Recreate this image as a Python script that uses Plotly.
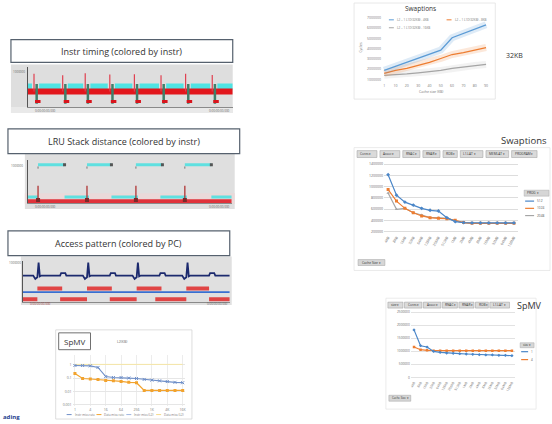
import plotly.graph_objects as go

W, H = 552, 424
def X(px): return px / W
def Y(py): return 1 - py / H

FONT = "Open Sans"
TXT = "#404040"

# ===================== DATA =====================
# Panel 1 : Instr timing (colored by instr)
timing_spike_x = [3, 17, 28, 40, 52, 65, 77, 90]
timing_spike_top = [84, 80, 85, 82, 83, 80, 84, 81]
timing_cyan_start = [0, 5.5, 19.5, 30.5, 42.5, 54.5, 67.5, 79.5, 92.5]
timing_cyan_end = [2, 16, 27, 39, 51, 64, 76, 89, 100]
timing_red_level = 39
timing_cyan_level = 52
timing_low_level = 8

# Panel 2 : LRU Stack distance (colored by instr)
lru_top_start = [5, 29, 53, 77]
lru_top_end = [18, 41, 66, 90]
lru_top_level = 88
lru_low_start = [0, 18, 41, 65, 90]
lru_low_end = [5, 30, 54, 78, 100]
lru_low_level = 14
lru_red_level = 4
lru_mark_x = [5, 29, 53, 77]
lru_mark_top = 40

# Panel 3 : Access pattern (colored by PC)
access_navy_x = [0, 5, 6, 7, 7.6, 8.2, 9, 18, 18.5, 20.5, 21, 29, 30, 31, 31.6, 32.2, 33, 42, 42.5, 44.5, 45,
                 53, 54, 55, 55.6, 56.2, 57, 66, 66.5, 68.5, 69, 77, 78, 79, 79.6, 80.2, 81, 90, 90.5, 92.5, 93, 100]
access_navy_y = [64, 64, 56, 60, 95, 62, 64, 64, 70, 70, 64, 64, 56, 60, 95, 62, 64, 64, 70, 70, 64,
                 64, 56, 60, 95, 62, 64, 64, 70, 70, 64, 64, 56, 60, 95, 62, 64, 64, 70, 70, 64, 64]
access_red_mid_start = [7, 31, 55, 79]
access_red_mid_end = [19, 43, 67, 90]
access_red_mid_level = 33
access_blue_level = 24
access_red_low_start = [0, 18, 42, 64, 90]
access_red_low_end = [7, 31, 55, 79, 100]
access_red_low_level = 7

# Panel 4 : SpMV (small line chart, log scale)
spmv_sizes = ["1", "2", "4", "8", "16", "32", "64", "128", "256", "512", "1K", "2K", "4K", "8K", "16K"]
spmv_blue = [0.87, 0.87, 0.82, 0.62, 0.13, 0.11, 0.11, 0.1, 0.093, 0.079, 0.07, 0.062, 0.055, 0.048, 0.045]
spmv_orange = [0.22, 0.093, 0.085, 0.079, 0.066, 0.062, 0.056, 0.048, 0.045, 0.012, 0.012, 0.012, 0.012, 0.012, 0.012]
spmv_yellow = [1.05, 1.05, 1.05, 1.05, 1.05, 1.05, 1.05, 1.05, 1.05, 1.05, 1.05, 1.05, 1.05, 1.05, 1.05]
spmv_legend = ["Instr miss rate", "Data miss rate", "Instr miss (L2)", "Data miss (L2)"]
spmv_ticks = [1, 0.1, 0.01, 0.001]

# Panel 5 : Swaptions (top right)
swap_x = ["1", "10", "20", "30", "40", "50", "60", "70", "80", "90"]
swap_blue = [1.87e6, 2.26e6, 2.65e6, 3.03e6, 3.42e6, 3.85e6, 5.06e6, 5.5e6, 5.94e6, 6.32e6]
swap_orange = [1.58e6, 1.87e6, 2.06e6, 2.35e6, 2.65e6, 3.03e6, 3.42e6, 3.61e6, 3.85e6, 4.1e6]
swap_gray = [1.39e6, 1.44e6, 1.53e6, 1.63e6, 1.73e6, 1.87e6, 2.06e6, 2.21e6, 2.35e6, 2.45e6]
swap_names = ["L2 = 1 L1D(32KB) - 4KB", "L2 = 1 L1D(32KB) - 8KB", "L2 = 1 L1D(32KB) - 16KB"]

# Panel 6 : Swaptions pivot chart
cache_labels = ["4KB", "8KB", "16KB", "32KB", "64KB", "128KB", "256KB", "512KB", "1MB", "2MB",
                "4MB", "8MB", "16MB", "32MB", "64MB", "128MB"]
pivot_blue = [1.213e6, 0.848e6, 0.724e6, 0.671e6, 0.613e6, 0.578e6, 0.565e6, 0.447e6, 0.376e6, 0.359e6,
              0.353e6, 0.353e6, 0.353e6, 0.353e6, 0.353e6, 0.353e6]
pivot_orange = [0.948e6, 0.742e6, 0.613e6, 0.535e6, 0.477e6, 0.447e6, 0.435e6, 0.429e6, 0.401e6, 0.359e6,
                0.345e6, 0.345e6, 0.345e6, 0.345e6, 0.345e6, 0.345e6]
pivot_gray = [0.888e6, 0.595e6, 0.613e6, 0.535e6, 0.494e6, 0.447e6, 0.447e6, 0.436e6, 0.389e6, 0.359e6,
              0.345e6, 0.345e6, 0.345e6, 0.345e6, 0.345e6, 0.345e6]
pivot_names = ["512", "1024", "2048"]
pivot_filters = ["Cores", "Assoc", "RNAC", "RNAR", "ROB", "L1.LAT", "MEMLAT", "PROGRAM"]

# Panel 7 : SpMV pivot chart
spmv_pivot_blue = [1.818e6, 1.212e6, 1.163e6, 0.996e6, 0.958e6, 0.934e6, 0.92e6, 0.909e6, 0.896e6, 0.883e6,
                   0.871e6, 0.858e6, 0.858e6, 0.845e6, 0.845e6, 0.833e6]
spmv_pivot_orange = [1.163e6, 1.06e6, 1.035e6, 1.023e6, 1.023e6, 1.023e6, 1.023e6, 1.023e6, 1.023e6, 1.023e6,
                     1.023e6, 1.023e6, 1.023e6, 1.023e6, 1.023e6, 1.023e6]
spmv_pivot_names = ["1", "4"]
spmv_filters = ["size", "Cores", "Assoc", "RNAC", "RNAR", "ROB", "L1.LAT"]

# ===================== FIGURE =====================
fig = go.Figure()
shapes, annos = [], []

def segs(starts, ends, level):
    xs, ys = [], []
    for s, e in zip(starts, ends):
        xs += [s, e, None]
        ys += [level, level, None]
    return xs, ys

def line(x, y, color, width, ax, mode="lines", **kw):
    fig.add_trace(go.Scatter(x=x, y=y, mode=mode, line=dict(color=color, width=width),
                             xaxis="x" + ax, yaxis="y" + ax, showlegend=False,
                             hoverinfo="skip", **kw))

def rect(x0, y0, x1, y1, fill=None, border=None, bw=1, layer="below"):
    shapes.append(dict(type="rect", xref="paper", yref="paper", x0=X(x0), x1=X(x1),
                       y0=Y(y1), y1=Y(y0), fillcolor=fill or "rgba(0,0,0,0)",
                       line=dict(color=border or "rgba(0,0,0,0)", width=bw if border else 0),
                       layer=layer))

def hline(x0, x1, y, color, width=1):
    shapes.append(dict(type="line", xref="paper", yref="paper", x0=X(x0), x1=X(x1),
                       y0=Y(y), y1=Y(y), line=dict(color=color, width=width), layer="above"))

def text(x, y, s, size=4, color=TXT, xa="center", ya="middle", angle=0, bold=False):
    if bold:
        s = "<b>" + s + "</b>"
    annos.append(dict(x=X(x), y=Y(y), xref="paper", yref="paper", text=s, showarrow=False,
                      font=dict(size=size, color=color, family=FONT), xanchor=xa, yanchor=ya,
                      textangle=angle))

def title_box(x0, y0, x1, y1, s):
    rect(x0, y0, x1, y1, fill="white", border="#56616e", bw=1.2, layer="above")
    text((x0 + x1) / 2, (y0 + y1) / 2 + 0.5, s, size=9, color="#333333")

layout_axes = {}
def axes(n, xd, yd, xkw=None, ykw=None):
    base = dict(showgrid=False, zeroline=False, showticklabels=False, ticks="", showline=False)
    xa = dict(base, domain=[X(xd[0]), X(xd[1])], anchor="y" + n)
    ya = dict(base, domain=[Y(yd[1]), Y(yd[0])], anchor="x" + n)
    xa.update(xkw or {})
    ya.update(ykw or {})
    layout_axes["xaxis" + n] = xa
    layout_axes["yaxis" + n] = ya

# ---------- Panel 1 ----------
rect(10, 62, 233, 111, fill="#dedede")
rect(10, 105, 233, 111, fill="#e9e9e9")
title_box(10, 37, 233, 60, "Instr timing (colored by instr)")
axes("", (27, 233), (65, 105),
     dict(range=[0, 100], showline=True, linecolor="#8a8a8a"),
     dict(range=[0, 100], showline=True, linecolor="#555555"))
cx, cy = segs(timing_cyan_start, timing_cyan_end, timing_cyan_level)
line(cx, cy, "#4fe3e3", 6, "")
line([0, 100], [timing_red_level, timing_red_level], "#e2161c", 6, "")
sx, sy = [], []
for xv, top in zip(timing_spike_x, timing_spike_top):
    sx += [xv, xv, None]
    sy += [timing_red_level, top, None]
line(sx, sy, "#e04050", 1.2, "")
gx, gy = [], []
for xv in timing_spike_x:
    gx += [xv + 1.3, xv + 1.3, None]
    gy += [timing_low_level, timing_cyan_level + 6, None]
line(gx, gy, "#3f7f6a", 2.5, "")
rx, ry = [], []
for xv in timing_spike_x:
    rx += [xv + 0.5, xv + 3.2, None]
    ry += [timing_low_level + 6, timing_low_level + 6, None]
line(rx, ry, "#d8141c", 3, "")
text(18, 70, "1000000", size=3, color="#666")
text(45, 109, "0:00:00:00.000", size=3, color="#666")
text(220, 109, "0:00:00:00.000", size=3, color="#666")

# ---------- Panel 2 ----------
rect(24, 152, 235, 208, fill="#dfdfdf")
rect(24, 192, 235, 203, fill="#ead9d9")
title_box(7, 127, 240, 152, "LRU Stack distance (colored by instr)")
axes("2", (27, 232), (158, 202),
     dict(range=[0, 100], showline=True, linecolor="#8a8a8a"),
     dict(range=[0, 100], showline=True, linecolor="#555555"))
tx, ty = segs(lru_top_start, lru_top_end, lru_top_level)
line(tx, ty, "#5fe0e0", 3, "2")
line(lru_top_end, [lru_top_level] * len(lru_top_end), "#555", 0, "2", mode="markers",
     marker=dict(size=3, color="#555555", symbol="square"))
mx, my = [], []
for xv in lru_top_start:
    mx += [xv, xv, None]
    my += [lru_top_level - 4, lru_top_level - 9, None]
line(mx, my, "#777777", 1, "2")
lx, ly = segs(lru_low_start, lru_low_end, lru_low_level)
line(lx, ly, "#5fe0e0", 3, "2")
line([0, 100], [lru_red_level, lru_red_level], "#e0323a", 4, "2")
vx, vy = [], []
for xv in lru_mark_x:
    vx += [xv, xv, None]
    vy += [lru_red_level, lru_mark_top, None]
line(vx, vy, "#b03535", 1.3, "2")
line(lru_mark_x, [lru_red_level + 3] * len(lru_mark_x), "#7a2a2a", 0, "2", mode="markers",
     marker=dict(size=4, color="#7a2a2a", symbol="square"))
text(16, 165, "1000000", size=3, color="#666")
text(45, 206, "0:00:00:00.000", size=3, color="#666")
text(220, 206, "0:00:00:00.000", size=3, color="#666")

# ---------- Panel 3 ----------
rect(20, 256, 232, 305, fill="#e0e0e0")
title_box(7, 230, 230, 255, "Access pattern (colored by PC)")
axes("3", (22, 230), (260, 302),
     dict(range=[0, 100], showline=True, linecolor="#8a8a8a"),
     dict(range=[0, 100], showline=True, linecolor="#555555"))
line(access_navy_x, access_navy_y, "#1c2a6e", 1.8, "3")
line([0, 100], [access_blue_level, access_blue_level], "#3a6fd0", 1.8, "3")
mx, my = segs(access_red_mid_start, access_red_mid_end, access_red_mid_level)
line(mx, my, "#e04545", 4, "3")
lx, ly = segs(access_red_low_start, access_red_low_end, access_red_low_level)
line(lx, ly, "#e04545", 4, "3")
text(14, 262, "1000000", size=3, color="#666")
text(40, 304, "0:00:00:00.000", size=3, color="#a04040")
text(218, 304, "0:00:00:00.000", size=3, color="#666")

# ---------- Panel 4 : SpMV small ----------
rect(55, 330, 192, 420, fill="white", border="#d4d4d4", bw=0.8)
axes("4", (72, 185), (355, 407),
     dict(type="category", showgrid=True, gridcolor="#ececec", showticklabels=True,
          tickfont=dict(size=3.5, color="#777"), tickvals=spmv_sizes[::2], range=[-0.3, 14.3]),
     dict(type="log", range=[-3.1, 0.75], showgrid=True, gridcolor="#e6e6e6", showticklabels=True,
          tickvals=spmv_ticks, ticktext=[str(t) for t in spmv_ticks],
          tickfont=dict(size=3.5, color="#777")))
line(spmv_sizes, spmv_yellow, "#f5e6a6", 1, "4", mode="lines")
line(spmv_sizes, spmv_blue, "#6f8fc8", 1.2, "4", mode="lines+markers",
     marker=dict(size=3, color="#6f8fc8", symbol="x-thin", line=dict(width=1, color="#6f8fc8")))
line(spmv_sizes, spmv_orange, "#f2a32e", 1.2, "4", mode="lines+markers",
     marker=dict(size=3, color="#f2a32e", symbol="square"))
rect(58, 333, 90, 350, fill="white", border="#707070", bw=1, layer="above")
text(74, 341.5, "SpMV", size=8, color="#333")
text(122, 342, "L2(KB)", size=3.5, color="#666")
leg_cols = ["#6f8fc8", "#f2a32e", "#9fb6e0", "#f5d98a"]
for i, (nm, c) in enumerate(zip(spmv_legend, leg_cols)):
    x0 = 66 + i * 30
    hline(x0, x0 + 5, 415.5, c, 1)
    text(x0 + 6, 415.5, nm, size=3, color="#777", xa="left")

# ---------- Panel 5 : Swaptions top ----------
rect(355, 0, 497, 97, fill="white", border="#e2e2e2", bw=0.8)
axes("5", (383, 490), (15, 80),
     dict(type="category", range=[-0.2, 9.2], showticklabels=True,
          tickfont=dict(size=3.5, color="#777")),
     dict(range=[0.71e6, 7e6], showticklabels=True, tickvals=[1e6, 2e6, 3e6, 4e6, 5e6, 6e6, 7e6],
          tickformat="d", tickfont=dict(size=3.5, color="#777")))
for ys, c, cl in [(swap_gray, "#a5a5a5", "rgba(165,165,165,0.15)"),
                  (swap_orange, "#ed7d31", "rgba(237,125,49,0.18)"),
                  (swap_blue, "#5b9bd5", "rgba(91,155,213,0.2)")]:
    line(swap_x, ys, cl, 7, "5")
    line(swap_x, ys, c, 1.3, "5")
text(422, 6, "Swaptions", size=6.5, color="#333")
text(362, 45, "Cycles", size=3.5, color="#777", angle=-90)
text(432, 89, "Cache size (KB)", size=3.5, color="#777")
for (nm, c), (lx0, ly0) in zip(zip(swap_names, ["#5b9bd5", "#ed7d31", "#a5a5a5"]),
                              [(390, 17), (448, 17), (390, 25)]):
    hline(lx0, lx0 + 5, ly0, c, 1)
    text(lx0 + 6, ly0, nm, size=3, color="#777", xa="left")
text(516, 53, "32KB", size=7, color="#333")

# ---------- Panel 6 : Swaptions pivot ----------
rect(355, 146, 552, 270, fill="white", border="#e4e4e4", bw=0.8)
axes("6", (385, 520), (160, 233),
     dict(type="category", range=[-0.5, 15.5], showticklabels=True, tickangle=-60,
          tickfont=dict(size=3.5, color="#666")),
     dict(range=[1.59e5, 1.448e6], showticklabels=True, showgrid=True, gridcolor="#dddddd",
          tickvals=[2e5, 4e5, 6e5, 8e5, 1e6, 1.2e6, 1.4e6], tickformat="d",
          tickfont=dict(size=3.5, color="#666")))
line(cache_labels, pivot_gray, "#a5a5a5", 1.2, "6", mode="lines+markers",
     marker=dict(size=3, color="#a5a5a5", symbol="triangle-up"))
line(cache_labels, pivot_orange, "#ed7d31", 1.2, "6", mode="lines+markers",
     marker=dict(size=3, color="#ed7d31", symbol="square"))
line(cache_labels, pivot_blue, "#4a86c8", 1.2, "6", mode="lines+markers",
     marker=dict(size=3, color="#4a86c8", symbol="diamond"))
text(551, 139, "Swaptions", size=9.5, color="#333", xa="right")
bx = 358
for lab in pivot_filters:
    w = 6 + 2.8 * len(lab)
    rect(bx, 149, bx + w, 156, fill="#dadada", border="#9a9a9a", bw=0.5, layer="above")
    text(bx + 1.2, 152.5, lab + " ▾", size=3.2, color="#333", xa="left")
    bx += w + 3
rect(526, 189, 551, 195, fill="#d6d6d6", border="#a8a8a8", bw=0.5, layer="above")
text(527, 192, "PROG ▾", size=3.2, color="#333", xa="left")
for i, (nm, c) in enumerate(zip(pivot_names, ["#4a86c8", "#ed7d31", "#a5a5a5"])):
    yy = 200 + i * 7.3
    hline(527, 536, yy, c, 1.2)
    text(537, yy, nm, size=3.2, color="#555", xa="left")
rect(359, 259, 386, 265, fill="#d6d6d6", border="#a0a0a0", bw=0.5, layer="above")
text(360.5, 262, "Cache Size ▾", size=3.2, color="#333", xa="left")

# ---------- Panel 7 : SpMV pivot ----------
rect(387, 298, 538, 410, fill="white", border="#e6e6e6", bw=0.8)
axes("7", (412, 517), (309, 380),
     dict(type="category", range=[-0.5, 15.5], showticklabels=True, tickangle=-60,
          tickfont=dict(size=3.2, color="#666")),
     dict(range=[-75758, 2.614e6], showticklabels=True, showgrid=True, gridcolor="#e2e2e2",
          tickvals=[0, 5e5, 1e6, 1.5e6, 2e6, 2.5e6], tickformat="d",
          tickfont=dict(size=3.2, color="#666")))
line(cache_labels, spmv_pivot_orange, "#ed7d31", 1.2, "7", mode="lines+markers",
     marker=dict(size=2.5, color="#ed7d31", symbol="square"))
line(cache_labels, spmv_pivot_blue, "#4a86c8", 1.2, "7", mode="lines+markers",
     marker=dict(size=2.5, color="#4a86c8", symbol="diamond"))
text(546, 305, "SpMV", size=9, color="#333", xa="right")
bx = 389
for lab in spmv_filters:
    w = 6 + 2.3 * len(lab)
    rect(bx, 302, bx + w, 308, fill="#dadada", border="#9a9a9a", bw=0.5, layer="above")
    text(bx + 1.2, 305, lab + " ▾", size=3.2, color="#333", xa="left")
    bx += w + 1.5
rect(522, 343, 536, 348, fill="#d6d6d6", border="#a8a8a8", bw=0.5, layer="above")
text(523, 345.5, "size ▾", size=3, color="#333", xa="left")
for i, (nm, c) in enumerate(zip(spmv_pivot_names, ["#4a86c8", "#ed7d31"])):
    yy = 352 + i * 8
    hline(523, 530, yy, c, 1.2)
    text(531, yy, nm, size=3, color="#555", xa="left")
rect(390, 396, 412, 402, fill="#d6d6d6", border="#a0a0a0", bw=0.5, layer="above")
text(391, 399, "Cache Size ▾", size=2.8, color="#333", xa="left")

# ---------- misc ----------
text(0, 423.5, "ading", size=6, color="#1f3f8f", xa="left", ya="bottom", bold=True)

fig.update_layout(width=W, height=H, margin=dict(l=0, r=0, t=0, b=0),
                  paper_bgcolor="white", plot_bgcolor="rgba(0,0,0,0)",
                  showlegend=False, shapes=shapes, annotations=annos,
                  font=dict(family=FONT), **layout_axes)
fig.write_html("out.html", config={"displayModeBar": False},
               post_script="document.body.style.margin='0';document.body.style.padding='0';"
                           "document.body.style.overflow='hidden';")
